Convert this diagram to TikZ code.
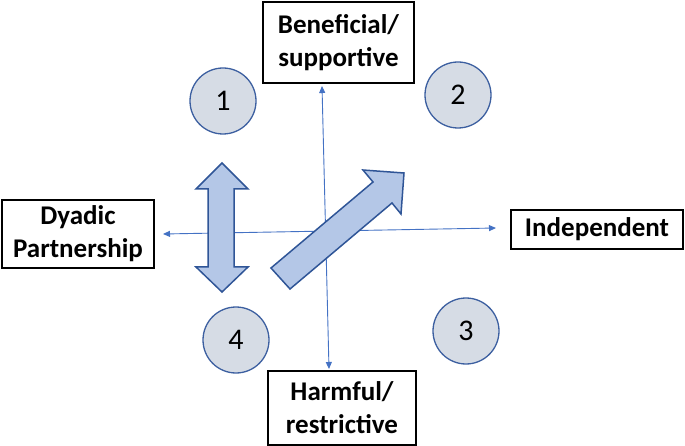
\documentclass[tikz,border=0pt]{standalone}
\usepackage{fontspec}
\setmainfont{Carlito}
\usetikzlibrary{arrows.meta}
\definecolor{axisblue}{RGB}{68,114,196}
\definecolor{circfill}{RGB}{214,220,229}
\definecolor{circline}{RGB}{60,95,160}
\definecolor{arrfill}{RGB}{180,199,231}
\definecolor{arrline}{RGB}{47,85,151}
\tikzset{
  labelbox/.style={draw=black, line width=1.6pt, fill=white, align=center,
    font=\fontsize{27}{33}\selectfont\bfseries, inner sep=0pt},
  numcirc/.style={circle, draw=circline, line width=1.3pt, fill=circfill,
    minimum size=66pt, inner sep=0pt, font=\fontsize{30}{32}\selectfont},
  axis/.style={draw=axisblue, line width=0.9pt, {Triangle[length=7pt,width=6pt]}-{Triangle[length=7pt,width=6pt]}},
  bigarrow/.style={draw=arrline, line width=1.5pt, fill=arrfill, line join=miter}
}
\begin{document}
\begin{tikzpicture}[x=1pt,y=-1pt]
\useasboundingbox (0,0) rectangle (685,446);
% boxes
\node[labelbox, minimum width=151pt, minimum height=81pt] (ben) at (338.5,42.5) {Beneficial/\\supportive};
\node[labelbox, minimum width=148pt, minimum height=74pt] (harm) at (342,408) {Harmful/\\restrictive};
\node[labelbox, minimum width=152pt, minimum height=68pt] (dyad) at (78,234) {Dyadic\\Partnership};
\node[labelbox, minimum width=172pt, minimum height=39pt] (indep) at (597,229.5) {Independent};
% axes
\coordinate (vtop) at (322,86);
\coordinate (vbot) at (329,369);
\coordinate (hleft) at (163,234);
\coordinate (hright) at (496,228);
\draw[axis] (vtop) -- (vbot);
\draw[axis] (hleft) -- (hright);
% circles
\node[numcirc] (c1) at (223,101) {1};
\node[numcirc] (c2) at (458,95) {2};
\node[numcirc] (c3) at (466,331) {3};
\node[numcirc] (c4) at (236,340) {4};
% vertical double arrow
\draw[bigarrow] (222,163) -- (248,189) -- (234,189) -- (234,267) -- (248,267) -- (222,292)
  -- (196,267) -- (208,267) -- (208,189) -- (196,189) -- cycle;
% diagonal arrow
\draw[bigarrow] (271,268) -- (373,182) -- (363,170) -- (404,173) -- (401,214) -- (392,203) -- (290,289) -- cycle;
\end{tikzpicture}
\end{document}
